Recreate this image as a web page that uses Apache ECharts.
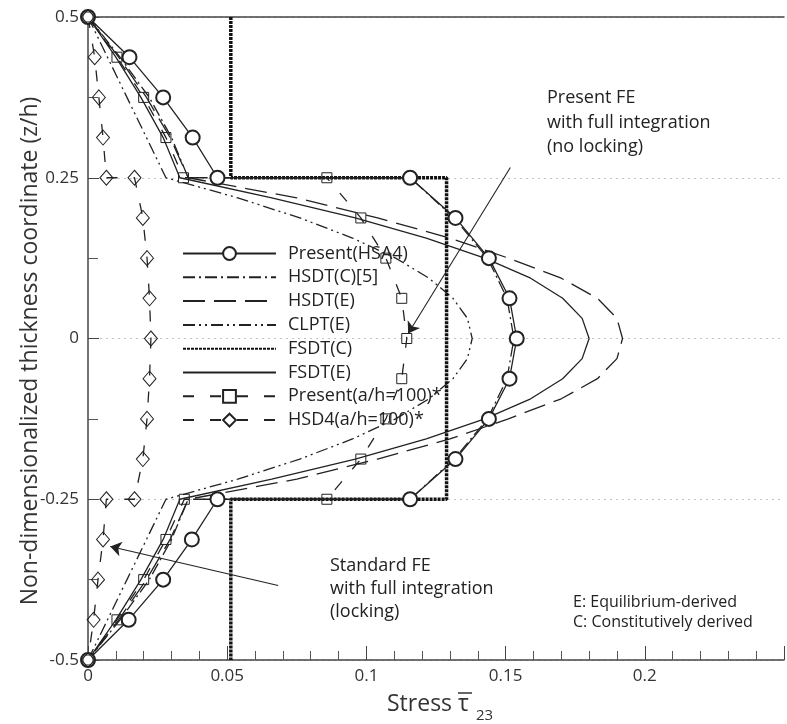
<!DOCTYPE html>
<html><head><meta charset="utf-8">
<script src="https://cdn.jsdelivr.net/npm/echarts@6/dist/echarts.min.js"></script>
<style>html,body{margin:0;padding:0;background:#fff}#c{width:787px;height:724px}</style>
</head><body><div id="c"></div>
<script>
// thickness coordinates (z/h)
const zNodes = [0.5,0.4375,0.375,0.3125,0.25,0.25,0.1875,0.125,0.0625,0,-0.0625,-0.125,-0.1875,-0.25,-0.25,-0.3125,-0.375,-0.4375,-0.5];
const zFine = [0.5,0.4375,0.375,0.3125,0.25,0.21875,0.1875,0.15625,0.125,0.09375,0.0625,0.03125,0,-0.03125,-0.0625,-0.09375,-0.125,-0.15625,-0.1875,-0.21875,-0.25,-0.3125,-0.375,-0.4375,-0.5];
const zFsdtC = [0.5,0.25,0.25,-0.25,-0.25,-0.5];

// stress values
const presentHSA4 = [0,0.0149,0.027,0.0376,0.0465,0.1157,0.132,0.144,0.1514,0.154,0.1514,0.144,0.132,0.1157,0.0465,0.0373,0.027,0.0146,0];
const hsdtC5 = [0,0.0115,0.022,0.030,0.036,0.1157,0.1315,0.1435,0.1505,0.153,0.1505,0.1435,0.1315,0.1157,0.036,0.030,0.022,0.0115,0];
const presentAH100 = [0,0.0104,0.020,0.028,0.0343,0.0858,0.098,0.107,0.1127,0.1145,0.1127,0.107,0.098,0.0858,0.0346,0.028,0.020,0.0104,0];
const hsd4AH100 = [0,0.0024,0.0039,0.0054,0.0066,0.0167,0.0197,0.0212,0.0221,0.0226,0.0221,0.0212,0.0197,0.0167,0.0066,0.0054,0.0036,0.0020,0];
const hsdtE = [0,0.011,0.021,0.0295,0.036,0.075,0.104,0.130,0.151,0.170,0.183,0.190,0.192,0.190,0.183,0.170,0.151,0.130,0.104,0.075,0.036,0.0295,0.021,0.011,0];
const clptE = [0,0.007,0.014,0.021,0.028,0.0538,0.0761,0.095,0.1105,0.1225,0.1311,0.1363,0.138,0.1363,0.1311,0.1225,0.1105,0.095,0.0761,0.0538,0.028,0.021,0.014,0.007,0];
const fsdtE = [0,0.010,0.019,0.027,0.033,0.066,0.096,0.1215,0.1425,0.159,0.1705,0.1775,0.180,0.1775,0.1705,0.159,0.1425,0.1215,0.096,0.066,0.033,0.027,0.019,0.010,0];
const fsdtC = [0.0513,0.0513,0.1288,0.1288,0.0513,0.0513];

const seriesNames = ['Present(HSA4)','HSDT(C)[5]','HSDT(E)','CLPT(E)','FSDT(C)','FSDT(E)','Present(a/h=100)*','HSD4(a/h=100)*'];
const xTicks = [0,0.05,0.1,0.15,0.2];
const yTicks = [-0.5,-0.25,0,0.25,0.5];

// annotation arrows (data coordinates: [stress, z/h])
const arrowPresentFE = [[0.1517,0.266],[0.1150,0.0078]];
const arrowStandardFE = [[0.0683,-0.384],[0.0080,-0.3235]];

const zip = (xs, zs) => xs.map((x,i)=>[x, zs[i]]);
const INK = '#222';
const FONT = 'Open Sans';
const noMarker = new Set(['HSDT(C)[5]','HSDT(E)','CLPT(E)','FSDT(C)','FSDT(E)']);

const chart = echarts.init(document.getElementById('c'), null, {renderer:'canvas'});
const base = (name, data, lineType, extra) => Object.assign({
  name, type:'line', data, symbol:'none', silent:true,
  lineStyle:{color:INK, width:1.3, type:lineType},
  itemStyle:{color:INK},
  z:2
}, extra||{});

chart.setOption({
  animation:false,
  textStyle:{fontFamily:FONT},
  grid:{left:88, top:17, right:-140, bottom:64},
  legend:{
    orient:'vertical', left:177, top:239, itemWidth:93, itemHeight:16, itemGap:4.8,
    selectedMode:false,
    data:seriesNames.map(n => noMarker.has(n) ? {name:n, itemStyle:{opacity:0}} : {name:n}),
    textStyle:{fontSize:18, color:INK, fontFamily:FONT, lineHeight:19, padding:[0,0,0,7]}
  },
  xAxis:[{
    type:'value', min:0, max:0.25, interval:0.05, position:'bottom',
    axisLine:{show:true, onZero:false, lineStyle:{color:'#444', width:1.5}},
    axisTick:{show:true, inside:true, length:14, lineStyle:{color:'#444'}},
    minorTick:{show:true, splitNumber:5, length:9, lineStyle:{color:'#555'}},
    axisLabel:{color:'#333', fontSize:17, margin:8, formatter:v=>xTicks.some(t=>Math.abs(t-v)<1e-9)?String(+v.toFixed(2)):''},
    splitLine:{show:false}
  },{
    type:'value', min:0, max:0.25, position:'top',
    axisLine:{show:true, onZero:false, lineStyle:{color:'#444', width:1.5}},
    axisTick:{show:false}, axisLabel:{show:false}, splitLine:{show:false}
  }],
  yAxis:{
    type:'value', min:-0.5, max:0.5, interval:0.25,
    axisLine:{show:true, onZero:false, lineStyle:{color:'#444', width:1.5}},
    axisTick:{show:true, inside:true, length:11, lineStyle:{color:'#444'}},
    minorTick:{show:true, splitNumber:2, length:10, lineStyle:{color:'#555'}},
    axisLabel:{color:'#333', fontSize:17, margin:9, formatter:v=>yTicks.some(t=>Math.abs(t-v)<1e-9)?String(v):''},
    splitLine:{show:true, lineStyle:{color:'#c4c4c4', type:[2,4], width:1}}
  },
  series:[
    base(seriesNames[0], zip(presentHSA4, zNodes), 'solid', {symbol:'emptyCircle', symbolSize:14, itemStyle:{color:INK, borderWidth:1.2}, z:4}),
    base(seriesNames[1], zip(hsdtC5, zNodes), [12,4,2,4]),
    base(seriesNames[2], zip(hsdtE, zFine), [22,9]),
    base(seriesNames[3], zip(clptE, zFine), [12,4,2,4,2,4]),
    base(seriesNames[4], zip(fsdtC, zFsdtC), [3,1], {lineStyle:{color:'#111', width:3.5, type:[3,1]}, z:3}),
    base(seriesNames[5], zip(fsdtE, zFine), 'solid', {
      markLine:{
        silent:true, symbol:['none','arrow'], symbolSize:11, label:{show:false},
        lineStyle:{color:INK, width:1.1, type:'solid'},
        data:[
          [{coord:arrowPresentFE[0]},{coord:arrowPresentFE[1]}],
          [{coord:arrowStandardFE[0]},{coord:arrowStandardFE[1]}]
        ]
      }
    }),
    base(seriesNames[6], zip(presentAH100, zNodes), [11,16], {symbol:'rect', symbolSize:10, itemStyle:{color:'rgba(255,255,255,0)', borderColor:INK, borderWidth:1}, z:4}),
    base(seriesNames[7], zip(hsd4AH100, zNodes), [11,16], {symbol:'diamond', symbolSize:[13,15], itemStyle:{color:'rgba(255,255,255,0)', borderColor:INK, borderWidth:1}, z:4})
  ],
  graphic:[
    {type:'text', rotation:Math.PI/2, x:30, y:351, style:{text:'Non-dimensionalized thickness coordinate (z/h)', fontSize:23, fontFamily:FONT, fill:'#333', align:'center', verticalAlign:'middle'}},
    {type:'text', x:387, y:716, style:{text:'Stress', fontSize:23, fontFamily:FONT, fill:'#333', align:'left', verticalAlign:'bottom'}},
    {type:'text', x:458, y:716, style:{text:'τ', fontSize:23, fontFamily:FONT, fill:'#333', align:'left', verticalAlign:'bottom'}},
    {type:'line', shape:{x1:458, y1:693, x2:472, y2:693}, style:{stroke:'#333', lineWidth:1.5}},
    {type:'text', x:476, y:723, style:{text:'23', fontSize:15, fontFamily:FONT, fill:'#333', align:'left', verticalAlign:'bottom'}},
    {type:'text', x:547, y:86, style:{text:'Present FE\nwith full integration\n(no locking)', fontSize:18, lineHeight:24.5, fontFamily:FONT, fill:'#222'}},
    {type:'text', x:330, y:554, style:{text:'Standard FE\nwith full integration\n(locking)', fontSize:18, lineHeight:23, fontFamily:FONT, fill:'#222'}},
    {type:'text', x:573, y:593, style:{text:'E: Equilibrium-derived\nC: Constitutively derived', fontSize:16, lineHeight:19.5, fontFamily:FONT, fill:'#222'}}
  ]
});
</script></body></html>
